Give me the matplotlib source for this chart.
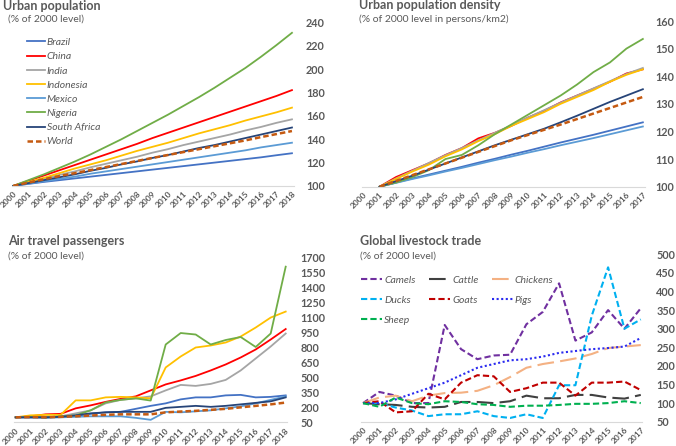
import matplotlib
matplotlib.use("Agg")
import matplotlib.pyplot as plt

plt.rcParams['font.family'] = ['Lato', 'DejaVu Sans']

GRAY = '#595959'
AXIS = '#D9D9D9'

# ---- urban population (% of 2000 level), 2000-2018
years_pop = list(range(2000, 2019))
pop_brazil = [100, 101.8, 103.5, 105, 106.5, 108, 109.5, 111, 112.5, 114, 115.5, 117, 118.5, 120, 121.5, 123, 124.5, 126.3, 128]
pop_china = [100, 104.5, 109, 113.5, 118, 122.5, 127, 131.5, 136, 141, 145.5, 150, 154.5, 159, 163.5, 168, 172.5, 177, 182]
pop_india = [100, 103, 106, 109.5, 112.5, 116, 119, 122, 125, 128.5, 131.5, 135, 138, 141, 144, 147.5, 150.5, 154, 157]
pop_indonesia = [100, 103.5, 107, 111, 115, 118.5, 122, 126, 130, 133.5, 137, 141, 145, 148.5, 152, 156, 159.5, 163, 167]
pop_mexico = [100, 102, 104, 106, 108, 110.5, 112.5, 114.5, 116.5, 118.5, 120.5, 122.5, 124.5, 126.5, 128.5, 130.5, 133, 135, 137]
pop_nigeria = [100, 105, 110, 115.5, 121, 127, 133.5, 140, 147, 154, 161, 168.5, 176, 184, 192.5, 201, 210.5, 220.5, 231]
pop_safrica = [100, 102.5, 105, 107.5, 110, 113, 115.5, 118.5, 121, 124, 126.5, 129.5, 132.5, 135, 138, 141, 144, 147, 150]
pop_world = [100, 103, 105.8, 108.5, 111, 113.6, 116.2, 118.8, 121.4, 124, 126.5, 129, 131.5, 134, 136.5, 139, 141.8, 144.4, 147]

# ---- urban population density, categories 2000-2017, data from 2001
years_den = list(range(2000, 2018))
den_years = list(range(2001, 2018))
den_brazil = [100, 101.5, 103, 104.4, 105.8, 107.2, 108.7, 110.1, 111.6, 113, 114.5, 116, 117.4, 118.8, 120.3, 121.8, 123.3]
den_china = [100, 103.5, 106, 108.5, 111.5, 114, 117.5, 119.5, 122, 125, 127.5, 130.5, 133, 135.5, 138, 141, 142.5]
den_india = [100, 103, 105.8, 108.6, 111.4, 114, 116.8, 119.5, 122.2, 125, 127.7, 130.4, 133, 135.6, 138.2, 140.8, 143]
den_indonesia = [100, 102.8, 105.5, 108, 111, 113.5, 116.5, 119, 122, 124.5, 127, 130, 132.5, 135, 138, 140.5, 142.5]
den_mexico = [100, 101.4, 102.8, 104.1, 105.5, 106.8, 108.2, 109.6, 110.9, 112.3, 113.6, 115, 116.3, 117.6, 119, 120.4, 121.8]
den_nigeria = [100, 101.5, 103.5, 106, 110, 111.5, 115, 119, 122.5, 126, 129.5, 133, 137, 141.5, 145, 150, 153.5]
den_safrica = [100, 102, 104, 106.2, 108.4, 110.6, 112.8, 115, 117, 119, 121, 123.3, 125.7, 128.2, 130.7, 133, 135.3]
den_world = [100, 102.1, 104.2, 106.3, 108.4, 110.5, 112.6, 114.7, 116.8, 118.7, 120.6, 122.5, 124.5, 126.5, 128.5, 130.5, 132.5]

# ---- air travel passengers, 2000-2018
air_brazil = [100, 100, 100, 105, 115, 135, 150, 155, 185, 215, 240, 280, 300, 300, 320, 325, 300, 305, 320]
air_china = [100, 110, 130, 135, 190, 220, 255, 285, 310, 370, 430, 470, 515, 570, 630, 700, 780, 880, 985]
air_india = [100, 100, 100, 110, 140, 170, 240, 275, 290, 310, 370, 425, 415, 435, 475, 570, 690, 810, 940]
air_indonesia = [100, 120, 125, 125, 270, 270, 300, 305, 300, 290, 600, 710, 800, 820, 850, 910, 1000, 1100, 1160]
air_mexico = [100, 100, 95, 100, 105, 110, 110, 110, 95, 75, 155, 150, 160, 170, 190, 210, 240, 275, 310]
air_nigeria = [100, 105, 100, 110, 120, 170, 250, 275, 290, 268, 830, 945, 930, 830, 875, 905, 805, 940, 1610]
air_safrica = [100, 100, 100, 105, 120, 140, 150, 155, 155, 155, 195, 205, 215, 205, 215, 230, 245, 260, 300]
air_world = [100, 103, 100, 105, 110, 118, 125, 130, 130, 130, 150, 158, 165, 175, 185, 200, 215, 230, 248]

# ---- global livestock trade, 2000-2017
camels = [100, 130, 120, 100, 100, 310, 245, 218, 228, 230, 312, 345, 422, 268, 290, 350, 300, 355]
cattle = [100, 97, 95, 90, 88, 90, 103, 103, 100, 105, 120, 113, 113, 122, 122, 115, 112, 122]
chickens = [100, 115, 120, 105, 120, 127, 128, 133, 148, 170, 195, 205, 212, 220, 232, 248, 252, 256]
ducks = [100, 100, 88, 80, 65, 70, 70, 78, 65, 60, 70, 60, 148, 148, 335, 465, 300, 325]
goats = [100, 105, 75, 78, 125, 110, 155, 175, 172, 130, 140, 155, 155, 120, 155, 155, 158, 135]
pigs = [100, 100, 110, 125, 140, 155, 175, 195, 205, 215, 218, 225, 235, 240, 245, 248, 252, 275]
sheep = [100, 90, 115, 100, 97, 105, 103, 97, 95, 90, 93, 93, 95, 98, 98, 100, 105, 100]

countries = ['Brazil', 'China', 'India', 'Indonesia', 'Mexico', 'Nigeria', 'South Africa', 'World']
c_colors = ['#4472C4', '#FF0000', '#A5A5A5', '#FFC000', '#5B9BD5', '#70AD47', '#264478', '#C55A11']


def style(ax, years, ylo, yhi, step, pad):
    ax.set_xlim(-0.1, len(years) - 0.9)
    ax.set_ylim(ylo, yhi)
    ax.set_yticks(list(range(ylo, yhi + 1, step)))
    ax.set_xticks(range(len(years)))
    ax.set_xticklabels([str(y) for y in years], rotation=45, ha='right',
                       rotation_mode='anchor', fontsize=6, color=GRAY, fontweight='bold')
    ax.yaxis.tick_right()
    ax.tick_params(axis='y', length=0, pad=pad, labelsize=7.8, labelcolor=GRAY)
    for lab in ax.get_yticklabels():
        lab.set_fontweight('bold')
    ax.tick_params(axis='x', length=0, pad=3)
    for s in ['top', 'left', 'right']:
        ax.spines[s].set_visible(False)
    ax.spines['bottom'].set_color(AXIS)
    ax.patch.set_alpha(0)


def draw_countries(ax, xs, series):
    handles = []
    for name, col, ys in zip(countries, c_colors, series):
        if name == 'World':
            h, = ax.plot(xs, ys, color=col, lw=1.8, ls=(0, (2.2, 1.2)), label=name)
        else:
            h, = ax.plot(xs, ys, color=col, lw=1.3, label=name)
        handles.append(h)
    return handles


fig = plt.figure(figsize=(6.76, 4.46), dpi=100)

# top left
ax1 = fig.add_axes([11.5 / 676, 0.583, 282 / 676, 0.367])
x1 = list(range(len(years_pop)))
h1 = draw_countries(ax1, x1, [pop_brazil, pop_china, pop_india, pop_indonesia,
                              pop_mexico, pop_nigeria, pop_safrica, pop_world])
style(ax1, years_pop, 100, 240, 20, 9)
leg = ax1.legend(handles=h1, loc='upper left', bbox_to_anchor=(0.055, 0.905), frameon=False,
                 fontsize=7.5, handlelength=1.7, handletextpad=0.2, labelspacing=0.47,
                 borderaxespad=0, borderpad=0)
for t in leg.get_texts():
    t.set_color(GRAY)
    t.set_fontstyle('italic')

# top right
ax2 = fig.add_axes([361.5 / 676, 0.5814, 283 / 676, 0.3715])
x2 = [years_den.index(y) for y in den_years]
draw_countries(ax2, x2, [den_brazil, den_china, den_india, den_indonesia,
                         den_mexico, den_nigeria, den_safrica, den_world])
style(ax2, years_den, 100, 160, 10, 7.5)

# bottom left
ax3 = fig.add_axes([14.2 / 676, 0.0531, 273 / 676, 0.3691])
draw_countries(ax3, x1, [air_brazil, air_china, air_india, air_indonesia,
                         air_mexico, air_nigeria, air_safrica, air_world])
style(ax3, years_pop, 50, 1700, 150, 9.5)

# bottom right
ax4 = fig.add_axes([361.4 / 676, 0.0545, 281 / 676, 0.3753])
x4 = list(range(len(years_den)))
animals = ['Camels', 'Cattle', 'Chickens', 'Ducks', 'Goats', 'Pigs', 'Sheep']
a_series = [camels, cattle, chickens, ducks, goats, pigs, sheep]
a_colors = ['#7030A0', '#404040', '#F4B183', '#00B0F0', '#C00000', '#2B2BF0', '#00B050']
a_styles = [(0, (3, 1.5)), (0, (8, 3)), (0, (8, 3)), (0, (3, 1.5)),
            (0, (3, 1.5)), (0, (1, 1.2)), (0, (3, 1.5))]
hs = {}
for name, ys, col, ls in zip(animals, a_series, a_colors, a_styles):
    h, = ax4.plot(x4, ys, color=col, ls=ls, lw=1.5, label=name)
    hs[name] = h
style(ax4, years_den, 50, 500, 50, 10)
# legend fills column by column, so order handles to read row by row
leg_order = ['Camels', 'Ducks', 'Sheep', 'Cattle', 'Goats', 'Chickens', 'Pigs']
leg4 = ax4.legend(handles=[hs[n] for n in leg_order], loc='upper left',
                  bbox_to_anchor=(0.0, 0.875), ncol=3,
                  frameon=False, fontsize=7.5, handlelength=2.0, handletextpad=0.2,
                  columnspacing=1.3, labelspacing=1.05, borderaxespad=0, borderpad=0)
for t in leg4.get_texts():
    t.set_color(GRAY)
    t.set_fontstyle('italic')

# titles
title_kw = dict(color=GRAY, fontweight='bold', fontsize=9, va='center')
sub_kw = dict(color=GRAY, fontsize=7.5, va='center')
fig.text(3 / 676, 1 - 6 / 446, 'Urban population', **title_kw)
fig.text(8 / 676, 1 - 19 / 446, '(% of 2000 level)', **sub_kw)
fig.text(359 / 676, 1 - 5 / 446, 'Urban population density', **title_kw)
fig.text(359 / 676, 1 - 19 / 446, '(% of 2000 level in persons/km2)', **sub_kw)
fig.text(8 / 676, 1 - 241 / 446, 'Air travel passengers', **title_kw)
fig.text(8 / 676, 1 - 256 / 446, '(% of 2000 level)', **sub_kw)
fig.text(360 / 676, 1 - 241 / 446, 'Global livestock trade', **title_kw)
fig.text(360 / 676, 1 - 256 / 446, '(% of 2000 level)', **sub_kw)

fig.savefig('out.png', dpi=100)
